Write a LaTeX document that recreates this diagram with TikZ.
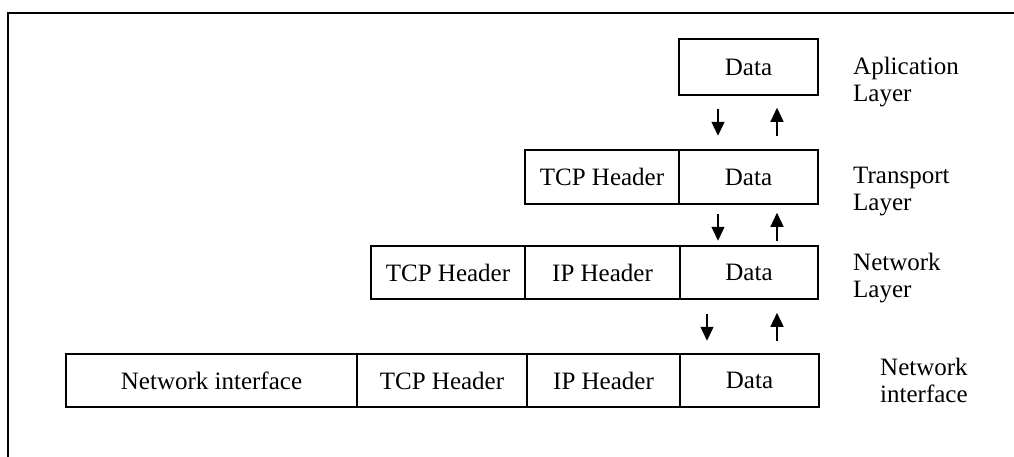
\documentclass[tikz,border=0pt]{standalone}
\usepackage{fontspec}
\setmainfont{Liberation Serif}
\usetikzlibrary{arrows.meta}

\begin{document}
\begin{tikzpicture}[x=1pt,y=-1pt,
  every node/.style={font=\fontsize{25}{27}\selectfont},
  cell/.style={draw, line width=1.5pt, rectangle, inner sep=0pt, anchor=center},
  % multi-line names sit on the baseline of their last line
  layername/.style={align=left, anchor=base west, inner sep=0pt},
  dn/.style={line width=1.3pt, -{Triangle[width=13pt,length=14pt]}},
  frameline/.style={line width=1.6pt}
]
\useasboundingbox (0,0) rectangle (1014,456);

% outer frame (only top and left edges fall inside the page)
\draw[frameline] (8,460) -- (8,12.7) -- (1016,12.7);

% application layer
\node[cell, minimum width=139pt, minimum height=56pt] (aData) at (748.5,67) {Data};

% transport layer
\node[cell, minimum width=154pt, minimum height=54pt] (tTCP)  at (602,177)   {TCP Header};
\node[cell, minimum width=139pt, minimum height=54pt] (tData) at (748.5,177) {Data};

% network layer
\node[cell, minimum width=154pt, minimum height=53pt] (nTCP)  at (448,272.5)   {TCP Header};
\node[cell, minimum width=155pt, minimum height=53pt] (nIP)   at (602.5,272.5) {IP Header};
\node[cell, minimum width=138pt, minimum height=53pt] (nData) at (749,272.5)   {Data};

% network interface
\node[cell, minimum width=291pt, minimum height=53pt] (iNI)   at (211.5,380.5) {Network interface};
\node[cell, minimum width=170pt, minimum height=53pt] (iTCP)  at (442,380.5)   {TCP Header};
\node[cell, minimum width=153pt, minimum height=53pt] (iIP)   at (603.5,380.5) {IP Header};
\node[cell, minimum width=139pt, minimum height=53pt] (iData) at (749.5,380.5) {Data};

% layer names
\node[layername] (lApp) at (853,101) {Aplication\\Layer};
\node[layername] (lTr)  at (853,210) {Transport\\Layer};
\node[layername] (lNet) at (853,297) {Network\\Layer};
\node[layername] (lNI)  at (880,402) {Network\\interface};

% encapsulation (down) and decapsulation (up) arrows
\draw[dn] (aData.south) ++(-30.5,13) -- ++(0,27);
\draw[dn] (aData.south) ++(28.5,40) -- ++(0,-28);
\draw[dn] (tData.south) ++(-30.5,9) -- ++(0,27);
\draw[dn] (tData.south) ++(28.5,36) -- ++(0,-28);
\draw[dn] (nData.south) ++(-42,14) -- ++(0,27);
\draw[dn] (nData.south) ++(28,41) -- ++(0,-28);
\end{tikzpicture}
\end{document}
